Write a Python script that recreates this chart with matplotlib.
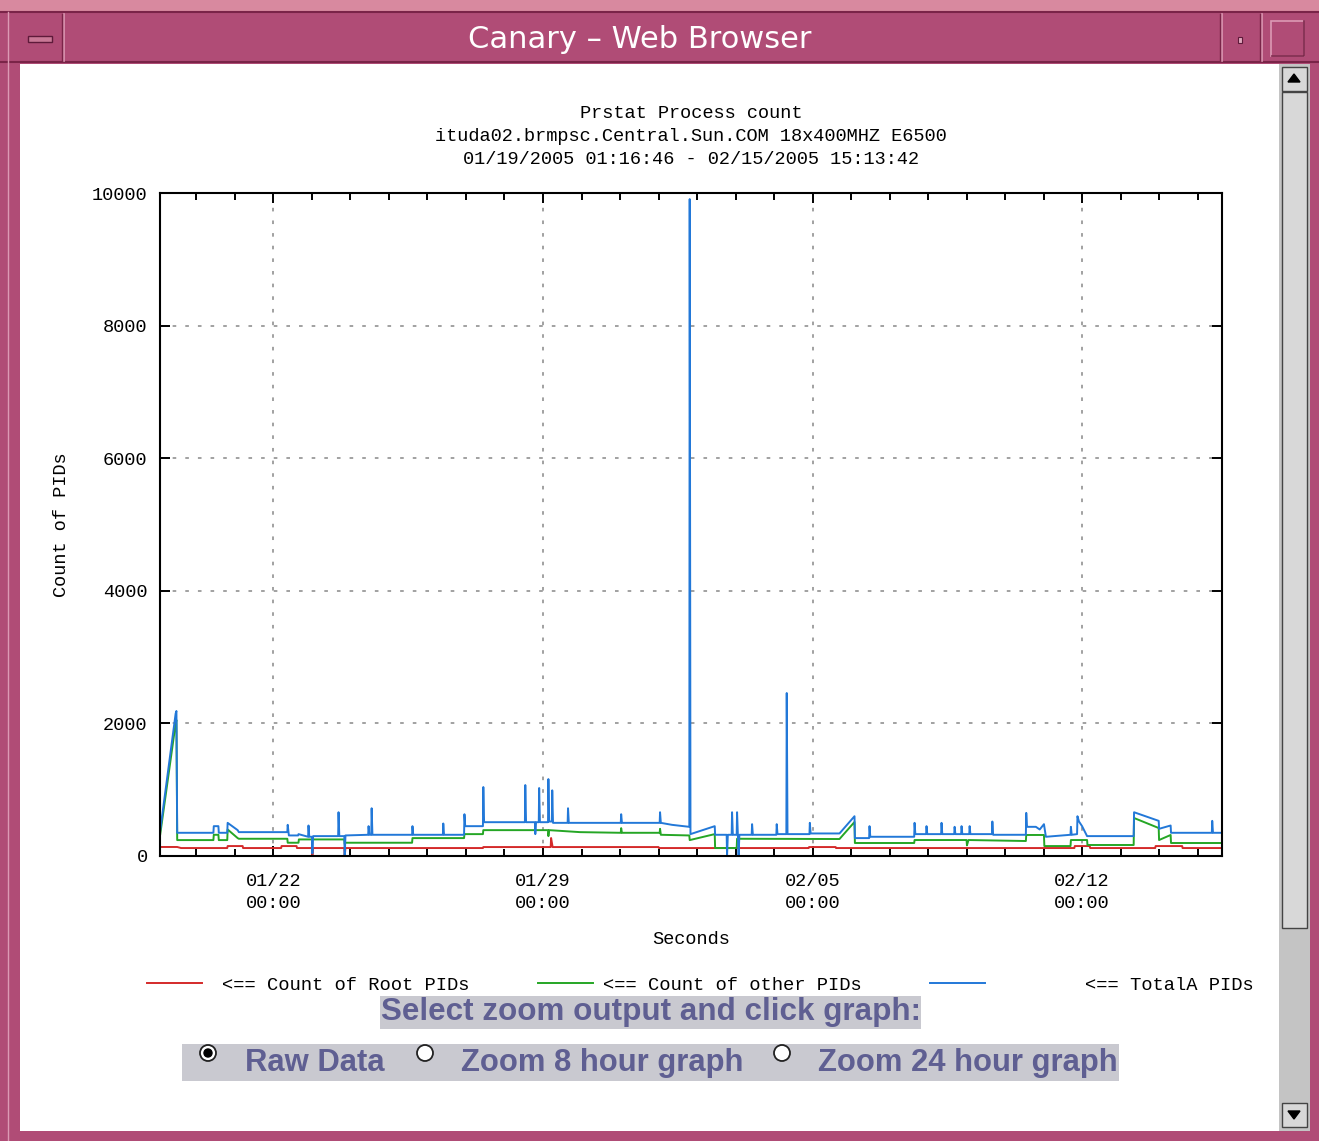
import matplotlib
matplotlib.use('Agg')
import matplotlib.pyplot as plt
from matplotlib.patches import Rectangle, Circle, Polygon
from matplotlib.ticker import MultipleLocator

# data, x in days since 01/19/2005 00:00
start_day = 0.0533   # 01/19 01:16:46
end_day = 27.634     # 02/15 15:13:42

total_days = [0.06, 0.46, 0.48, 0.50, 1.44, 1.45, 1.57, 1.58, 1.80, 1.81, 2.07, 2.10,
              3.36, 3.37, 3.40, 3.64, 3.65, 3.90, 3.91, 3.93, 4.00, 4.01, 4.03, 4.68,
              4.69, 4.71, 4.84, 4.85, 4.87, 5.46, 5.47, 5.49, 5.54, 5.55, 5.57, 6.60,
              6.61, 6.63, 7.40, 7.41, 7.43, 7.95, 7.96, 7.98, 8.44, 8.45, 8.47, 9.53,
              9.54, 9.56, 9.79, 9.80, 9.82, 9.89, 9.90, 9.92, 10.13, 10.14, 10.16, 10.23,
              10.24, 10.26, 10.64, 10.65, 10.67, 12.02, 12.03, 12.05, 13.03, 13.04, 13.06, 13.35,
              13.80, 13.81, 13.83, 14.46, 14.47, 14.77, 14.78, 14.80, 14.90, 14.91, 14.93, 15.03,
              15.04, 15.06, 15.08, 15.10, 15.42, 15.43, 15.45, 16.06, 16.07, 16.09, 16.32, 16.33,
              16.35, 16.92, 16.93, 16.95, 17.70, 18.09, 18.10, 18.47, 18.48, 18.50, 19.64, 19.65,
              19.67, 19.95, 19.96, 19.98, 20.34, 20.35, 20.37, 20.68, 20.69, 20.71, 20.86, 20.87,
              20.89, 21.07, 21.08, 21.10, 21.66, 21.67, 21.69, 22.54, 22.55, 22.57, 22.80, 22.90,
              23.01, 23.06, 23.70, 23.71, 23.73, 23.87, 23.88, 23.92, 24.00, 24.13, 25.34, 25.35,
              25.99, 26.00, 26.30, 26.31, 27.37, 27.38, 27.40, 27.63]
total_pids = [390, 2150, 2187, 350, 350, 450, 450, 350, 350, 500, 390, 360,
              360, 470, 310, 310, 330, 290, 460, 290, 290, 40, 300, 300,
              660, 300, 300, 0, 310, 320, 450, 320, 320, 720, 320, 320,
              450, 320, 320, 490, 320, 320, 630, 450, 450, 1040, 510, 510,
              1070, 510, 510, 330, 510, 510, 1025, 510, 510, 1160, 520, 520,
              990, 500, 500, 720, 500, 500, 630, 500, 500, 660, 500, 470,
              440, 9908, 330, 450, 320, 320, 0, 320, 320, 660, 320, 320,
              660, 320, 0, 320, 320, 480, 320, 320, 480, 330, 330, 2458,
              330, 330, 500, 340, 340, 600, 270, 270, 450, 290, 290, 500,
              330, 330, 450, 330, 330, 500, 330, 330, 440, 330, 330, 450,
              330, 330, 450, 330, 330, 520, 320, 320, 650, 440, 440, 400,
              480, 290, 320, 440, 320, 330, 600, 520, 450, 300, 300, 660,
              530, 410, 460, 350, 350, 530, 350, 350]

other_days = [0.06, 0.46, 0.48, 0.50, 1.44, 1.45, 1.57, 1.58, 1.80, 1.81, 2.07, 2.10,
              3.36, 3.37, 3.65, 3.66, 4.84, 4.85, 4.87, 6.60, 6.61, 7.95, 7.96, 8.44,
              8.45, 10.13, 10.14, 10.16, 10.96, 12.02, 12.03, 12.05, 13.03, 13.04, 13.06, 13.80,
              13.81, 14.46, 14.47, 15.03, 15.04, 17.70, 18.09, 18.10, 19.64, 19.65, 21.00, 21.01,
              21.05, 22.54, 22.55, 23.01, 23.02, 23.70, 23.71, 24.13, 24.14, 25.34, 25.35, 25.99,
              26.00, 26.30, 26.31, 27.63]
other_pids = [330, 2000, 2050, 240, 240, 320, 320, 240, 240, 400, 270, 260,
              260, 200, 200, 250, 250, 180, 200, 200, 270, 270, 330, 330,
              390, 390, 300, 390, 360, 350, 420, 350, 350, 410, 320, 310,
              240, 330, 120, 120, 260, 256, 513, 196, 196, 241, 241, 160,
              241, 226, 317, 317, 150, 150, 241, 241, 166, 166, 573, 422,
              241, 317, 196, 196]

root_days = [0.06, 0.50, 0.60, 1.80, 1.81, 2.20, 2.21, 3.20, 3.21, 3.60, 3.61, 4.00,
             4.01, 4.03, 4.84, 4.85, 4.87, 8.44, 8.45, 10.20, 10.21, 10.25, 13.00, 13.01,
             16.90, 16.91, 17.60, 17.61, 23.80, 23.81, 24.20, 24.21, 25.90, 25.91, 26.60, 26.61,
             27.63]
root_pids = [136, 136, 120, 120, 150, 150, 120, 120, 150, 150, 120, 120,
             0, 120, 120, 0, 120, 120, 135, 135, 271, 135, 135, 120,
             120, 135, 135, 120, 120, 150, 150, 120, 120, 150, 150, 120,
             120]

week_days = [3, 10, 17, 24]
week_labels = ['01/22\n00:00', '01/29\n00:00', '02/05\n00:00', '02/12\n00:00']
y_ticks = [0, 2000, 4000, 6000, 8000, 10000]

title_lines = ['Prstat Process count',
               'ituda02.brmpsc.Central.Sun.COM 18x400MHZ E6500',
               '01/19/2005 01:16:46 - 02/15/2005 15:13:42']
legend_labels = ['<== Count of Root PIDs', '<== Count of other PIDs', '<== TotalA PIDs']
radio_labels = ['Raw Data', 'Zoom 8 hour graph', 'Zoom 24 hour graph']

red = '#d42a2a'
green = '#25a625'
blue = '#2278d8'
mono = 'Liberation Mono'

W, H = 1319, 1141
fig = plt.figure(figsize=(W / 100, H / 100), dpi=100)

# window decoration drawn in pixel coords
bg = fig.add_axes([0, 0, 1, 1])
bg.set_xlim(0, W)
bg.set_ylim(H, 0)
bg.axis('off')


def box(x, y, w, h, fc, ec='none', lw=0, z=1):
    bg.add_patch(Rectangle((x, y), w, h, facecolor=fc, edgecolor=ec, linewidth=lw, zorder=z))


frame = '#b04c76'
light = '#dc9ab4'
dark = '#7a2448'
box(0, 0, W, H, frame)
box(0, 0, W, 12, '#d8899f')
bg.plot([0, W], [12, 12], color=dark, lw=1.5, zorder=2)
bg.plot([0, W], [62, 62], color=dark, lw=1.5, zorder=2)
bg.plot([8, 8], [12, H], color=light, lw=1, zorder=2)
for xs in [64, 1222, 1262]:
    bg.plot([xs, xs], [14, 61], color=light, lw=1.2, zorder=2)
    bg.plot([xs - 2, xs - 2], [14, 61], color=dark, lw=1, zorder=2)
box(28, 36, 24, 6, '#c97896', ec='#5e1a3a', lw=1, z=3)
box(1238, 37, 4, 6, '#e0a8be', ec='#5e1a3a', lw=0.8, z=3)
box(1271, 21, 33, 35, 'none', ec=light, lw=1.2, z=3)
bg.plot([1272, 1304, 1304], [56, 56, 21], color=dark, lw=1.2, zorder=3)
bg.text(640, 39, 'Canary \u2013 Web Browser', color='white', fontsize=22,
        family='DejaVu Sans', ha='center', va='center', zorder=3)

# page area and scrollbar
box(20, 64, 1259, 1067, 'white', z=2)
box(1279, 64, 31, 1067, '#c4c4c4', z=2)
box(1282, 67, 25, 24, '#d8d8d8', ec='#444444', lw=1, z=3)
box(1282, 92, 25, 836, '#d8d8d8', ec='#444444', lw=1, z=3)
box(1282, 1103, 25, 24, '#d8d8d8', ec='#444444', lw=1, z=3)
bg.add_patch(Polygon([[1288, 82], [1300, 82], [1294, 74]], color='black', zorder=4))
bg.add_patch(Polygon([[1288, 1111], [1300, 1111], [1294, 1119]], color='black', zorder=4))

# legend keys under the graph
key_x = [(147, 202), (538, 593), (930, 985)]
text_x = [222, 603, 1085]
for (x0, x1), tx, c, lab in zip(key_x, text_x, [red, green, blue], legend_labels):
    bg.plot([x0, x1], [983, 983], color=c, lw=1.4, zorder=3)
    bg.text(tx, 985, lab, family=mono, fontsize=13.5, ha='left', va='center', zorder=3)

# zoom form
form_col = '#5f5f92'
box(380, 996, 541, 33, '#c9c9d0', z=3)
bg.text(381, 1012, 'Select zoom output and click graph:', color=form_col, fontsize=22.6,
        family='Liberation Sans', weight='bold', ha='left', va='center', zorder=4)
box(182, 1044, 937, 37, '#c9c9d0', z=3)
for i, (cx, tx) in enumerate(zip([208, 425, 782], [245, 461, 818])):
    bg.add_patch(Circle((cx, 1053), 8, facecolor='white', edgecolor='#222222', lw=1.3, zorder=4))
    if i == 0:
        bg.add_patch(Circle((cx, 1053), 4, color='black', zorder=5))
    bg.text(tx, 1063, radio_labels[i], color=form_col, fontsize=22.3,
            family='Liberation Sans', weight='bold', ha='left', va='center', zorder=4)

# the graph itself
ax = fig.add_axes([160 / W, (H - 856) / H, 1062 / W, 663 / H])
ax.set_zorder(5)
ax.plot(root_days, root_pids, color=red, lw=1.4)
ax.plot(other_days, other_pids, color=green, lw=1.4)
ax.plot(total_days, total_pids, color=blue, lw=1.4)

ax.set_xlim(start_day, end_day)
ax.set_ylim(0, 10000)
ax.set_xticks(week_days, week_labels)
ax.set_yticks(y_ticks, [str(v) for v in y_ticks])
ax.xaxis.set_minor_locator(MultipleLocator(1))
ax.tick_params(which='both', direction='in', top=True, right=True, width=1.4,
               labelsize=13.4, colors='black')
ax.tick_params(which='major', length=7)
ax.tick_params(which='minor', length=5)
ax.tick_params(axis='x', pad=12)
ax.tick_params(axis='y', pad=9)
for lab in ax.get_xticklabels() + ax.get_yticklabels():
    lab.set_family(mono)
for lab in ax.get_xticklabels():
    lab.set_linespacing(1.4)
ax.grid(True, which='major', color='#9a9a9a', linestyle=(0, (2, 5)), lw=1.3)
ax.set_axisbelow(True)
for s in ax.spines.values():
    s.set_linewidth(1.5)

ax.set_title('\n'.join(title_lines), family=mono, fontsize=13.4, pad=21, linespacing=1.45)
ax.set_ylabel('Count of PIDs', family=mono, fontsize=13.4)
ax.yaxis.set_label_coords(-0.085, 0.5)
ax.set_xlabel('Seconds', family=mono, fontsize=13.4)
ax.xaxis.set_label_coords(0.5, -0.113)

fig.savefig('out.png', dpi=100)
